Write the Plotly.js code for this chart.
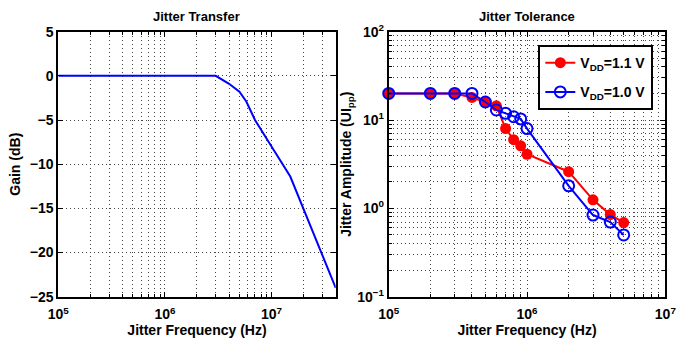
<!DOCTYPE html>
<html>
<head>
<meta charset="utf-8">
<script src="https://cdn.plot.ly/plotly-3.0.1.min.js"></script>
<style>html,body{margin:0;padding:0;background:#fff;}#chart{width:684px;height:339px;}</style>
</head>
<body>
<div id="chart"></div>
<script>
// Jitter transfer data
const tfFreq = [1e5, 3e6, 4e6, 5e6, 5.8e6, 7e6, 1e7, 1.5e7, 4e7];
const tfGain = [0, 0, -0.9, -1.8, -2.9, -5, -8, -11.4, -24];

// Jitter tolerance data
const jtFreq = [1e5, 2e5, 3e5, 4e5, 5e5, 6e5, 7e5, 8e5, 9e5, 1e6, 2e6, 3e6, 4e6, 5e6];
const vdd11 = [20, 20, 20, 18, 16, 14.5, 8, 6, 5.1, 4.1, 2.6, 1.25, 0.85, 0.69];
const vdd10 = [20, 20, 20, 20, 16, 13, 11.9, 10.9, 10.3, 8, 1.8, 0.84, 0.7, 0.5];

const seriesNames = ['V<sub>DD</sub>=1.1 V', 'V<sub>DD</sub>=1.0 V'];
const panelTitles = ['Jitter Transfer', 'Jitter Tolerance'];
const xTitle = 'Jitter Frequency (Hz)';
const yTitles = ['Gain (dB)', 'Jitter Amplitude (UI<sub>pp</sub>)'];
const gainTicks = [5, 0, -5, -10, -15, -20, -25];

function decades(lo, hi) { const a = []; for (let e = lo; e <= hi; e++) a.push(e); return a; }
function majorVals(lo, hi) { return decades(lo, hi).map(e => Math.pow(10, e)); }
function majorText(lo, hi) { return decades(lo, hi).map(e => '10<sup>' + (e < 0 ? '\u2212' + (-e) : e) + '</sup>'); }
function minorVals(lo, hi) {
  const a = [];
  for (let e = lo; e < hi; e++) for (let m = 2; m <= 9; m++) a.push(m * Math.pow(10, e));
  return a;
}

const FONT = 'Liberation Sans, Arial, Helvetica, sans-serif';
const gridCol = '#444';
const gridDash = '1px,3px';

const common = {
  showline: true, linecolor: '#000', linewidth: 2, mirror: 'ticks',
  ticks: 'inside', ticklen: 5, tickwidth: 1, tickcolor: '#000',
  showgrid: true, gridcolor: gridCol, griddash: gridDash, gridwidth: 1,
  zeroline: false,
  tickfont: {family: FONT, size: 14, color: '#000', weight: 'bold'},
  automargin: false
};

function logAxis(lo, hi, rangeHi, extra) {
  return Object.assign({}, common, {
    type: 'log', range: [lo, rangeHi],
    tickmode: 'array', tickvals: majorVals(lo, hi), ticktext: majorText(lo, hi),
    minor: {tickmode: 'array', tickvals: minorVals(lo, Math.ceil(rangeHi)), ticks: 'inside', ticklen: 3,
            tickcolor: '#000', showgrid: true, gridcolor: gridCol, griddash: gridDash, gridwidth: 1}
  }, extra);
}

const titleFont = {family: FONT, size: 14, color: '#000', weight: 'bold'};

const traces = [
  {x: tfFreq, y: tfGain, xaxis: 'x', yaxis: 'y', mode: 'lines', showlegend: false,
   line: {color: '#0000ff', width: 2}, cliponaxis: false},
  {x: jtFreq, y: vdd11, xaxis: 'x2', yaxis: 'y2', mode: 'lines+markers', name: seriesNames[0], legendgroup: 'a',
   line: {color: '#ff0000', width: 2}, marker: {symbol: 'circle', size: 11, color: '#ff0000'}, cliponaxis: false},
  {x: jtFreq, y: vdd10, xaxis: 'x2', yaxis: 'y2', mode: 'lines+markers', name: seriesNames[1], legendgroup: 'b',
   line: {color: '#0000ff', width: 2}, marker: {symbol: 'circle-open', size: 11, color: '#0000ff', line: {width: 2, color: '#0000ff'}}, cliponaxis: false}
];

const layout = {
  width: 684, height: 339,
  margin: {l: 0, r: 0, t: 0, b: 0},
  paper_bgcolor: '#fff', plot_bgcolor: '#fff',
  font: {family: FONT, color: '#000', weight: 'bold'},
  xaxis: logAxis(5, 7, Math.log10(4e7), {domain: [0.0852, 0.4908], anchor: 'y', ticklabelstandoff: 4,
          title: {text: xTitle, font: titleFont, standoff: 0}}),
  yaxis: Object.assign({}, common, {domain: [0.1248, 0.9065], anchor: 'x', range: [-25, 5],
          tickmode: 'array', tickvals: gainTicks,
          title: {text: yTitles[0], font: titleFont, standoff: 6}}),
  xaxis2: logAxis(5, 7, 7, {domain: [0.5683, 0.9727], anchor: 'y2', ticklabelstandoff: 4,
          title: {text: xTitle, font: titleFont, standoff: 0}}),
  yaxis2: logAxis(-1, 2, 2, {domain: [0.1248, 0.9065], anchor: 'x2',
          title: {text: yTitles[1], font: titleFont, standoff: 2}}),
  legend: {x: 0.787, y: 0.867, xanchor: 'left', yanchor: 'top',
           bgcolor: '#fff', bordercolor: '#000', borderwidth: 2, itemwidth: 30, tracegroupgap: 8,
           font: {family: FONT, size: 14, color: '#000', weight: 'bold'}},
  annotations: [
    {text: panelTitles[0], xref: 'paper', yref: 'paper', x: (0.0852 + 0.4908) / 2, y: 1 - 16 / 339,
     xanchor: 'center', yanchor: 'middle', showarrow: false, font: {family: FONT, size: 13, color: '#000', weight: 'bold'}},
    {text: panelTitles[1], xref: 'paper', yref: 'paper', x: (0.5683 + 0.9727) / 2, y: 1 - 16 / 339,
     xanchor: 'center', yanchor: 'middle', showarrow: false, font: {family: FONT, size: 13, color: '#000', weight: 'bold'}}
  ]
};

Plotly.newPlot('chart', traces, layout, {displayModeBar: false, staticPlot: true});
</script>
</body>
</html>
